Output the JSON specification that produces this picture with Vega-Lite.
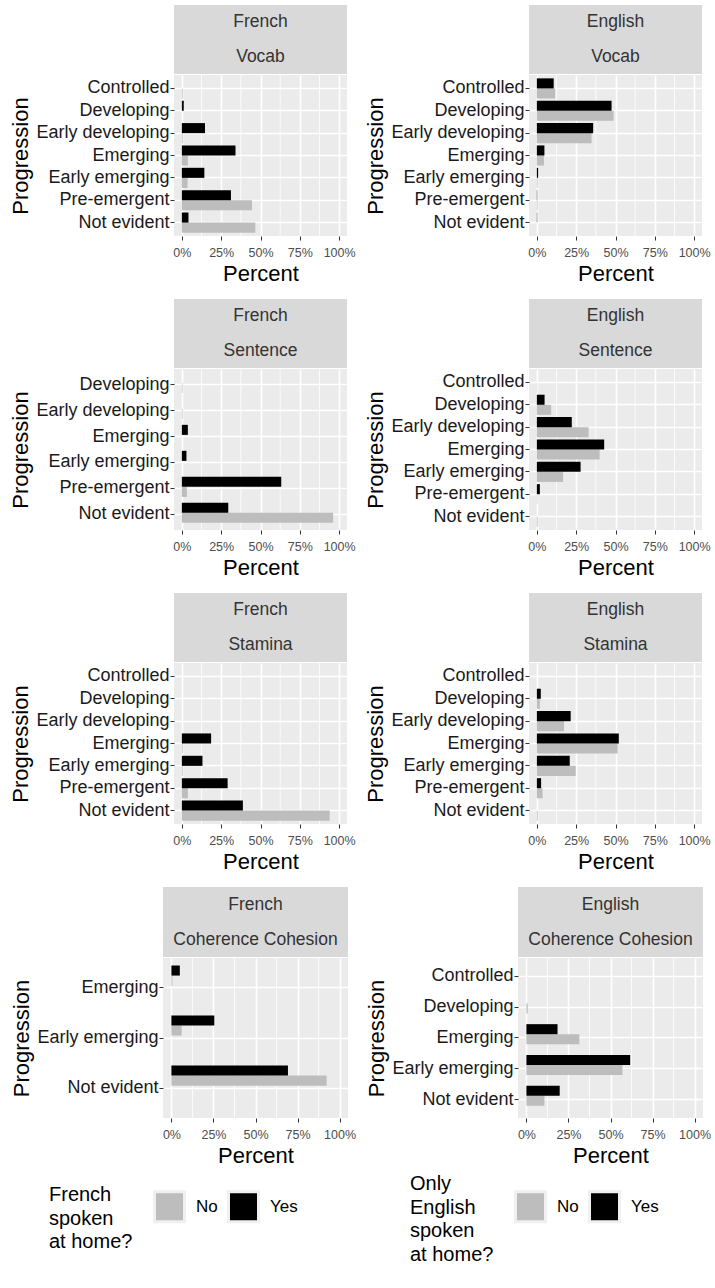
{
  "$schema": "https://vega.github.io/schema/vega-lite/v6.json",
  "padding": {"left": 0, "top": 5, "right": 0, "bottom": 0},
  "datasets": {
    "d": [
      {"lang": "French", "skill": "Vocab", "level": "Controlled", "home": "No", "pct": 0.5},
      {"lang": "French", "skill": "Vocab", "level": "Controlled", "home": "Yes", "pct": 0},
      {"lang": "French", "skill": "Vocab", "level": "Developing", "home": "No", "pct": 0},
      {"lang": "French", "skill": "Vocab", "level": "Developing", "home": "Yes", "pct": 1.2},
      {"lang": "French", "skill": "Vocab", "level": "Early developing", "home": "No", "pct": 0.5},
      {"lang": "French", "skill": "Vocab", "level": "Early developing", "home": "Yes", "pct": 14.7},
      {"lang": "French", "skill": "Vocab", "level": "Emerging", "home": "No", "pct": 3.8},
      {"lang": "French", "skill": "Vocab", "level": "Emerging", "home": "Yes", "pct": 34.1},
      {"lang": "French", "skill": "Vocab", "level": "Early emerging", "home": "No", "pct": 3.6},
      {"lang": "French", "skill": "Vocab", "level": "Early emerging", "home": "Yes", "pct": 14.3},
      {"lang": "French", "skill": "Vocab", "level": "Pre-emergent", "home": "No", "pct": 44.6},
      {"lang": "French", "skill": "Vocab", "level": "Pre-emergent", "home": "Yes", "pct": 31.2},
      {"lang": "French", "skill": "Vocab", "level": "Not evident", "home": "No", "pct": 46.7},
      {"lang": "French", "skill": "Vocab", "level": "Not evident", "home": "Yes", "pct": 4.2},

      {"lang": "English", "skill": "Vocab", "level": "Controlled", "home": "No", "pct": 11.6},
      {"lang": "English", "skill": "Vocab", "level": "Controlled", "home": "Yes", "pct": 10.7},
      {"lang": "English", "skill": "Vocab", "level": "Developing", "home": "No", "pct": 48.8},
      {"lang": "English", "skill": "Vocab", "level": "Developing", "home": "Yes", "pct": 47.5},
      {"lang": "English", "skill": "Vocab", "level": "Early developing", "home": "No", "pct": 34.8},
      {"lang": "English", "skill": "Vocab", "level": "Early developing", "home": "Yes", "pct": 35.8},
      {"lang": "English", "skill": "Vocab", "level": "Emerging", "home": "No", "pct": 4.5},
      {"lang": "English", "skill": "Vocab", "level": "Emerging", "home": "Yes", "pct": 4.8},
      {"lang": "English", "skill": "Vocab", "level": "Early emerging", "home": "No", "pct": 0.4},
      {"lang": "English", "skill": "Vocab", "level": "Early emerging", "home": "Yes", "pct": 0.8},
      {"lang": "English", "skill": "Vocab", "level": "Pre-emergent", "home": "No", "pct": 0.4},
      {"lang": "English", "skill": "Vocab", "level": "Pre-emergent", "home": "Yes", "pct": 0.2},
      {"lang": "English", "skill": "Vocab", "level": "Not evident", "home": "No", "pct": 0},
      {"lang": "English", "skill": "Vocab", "level": "Not evident", "home": "Yes", "pct": 0.2},

      {"lang": "French", "skill": "Sentence", "level": "Developing", "home": "No", "pct": 0.4},
      {"lang": "French", "skill": "Sentence", "level": "Developing", "home": "Yes", "pct": 0},
      {"lang": "French", "skill": "Sentence", "level": "Early developing", "home": "No", "pct": 0.4},
      {"lang": "French", "skill": "Sentence", "level": "Early developing", "home": "Yes", "pct": 0},
      {"lang": "French", "skill": "Sentence", "level": "Emerging", "home": "No", "pct": 0},
      {"lang": "French", "skill": "Sentence", "level": "Emerging", "home": "Yes", "pct": 3.8},
      {"lang": "French", "skill": "Sentence", "level": "Early emerging", "home": "No", "pct": 0},
      {"lang": "French", "skill": "Sentence", "level": "Early emerging", "home": "Yes", "pct": 2.9},
      {"lang": "French", "skill": "Sentence", "level": "Pre-emergent", "home": "No", "pct": 3.2},
      {"lang": "French", "skill": "Sentence", "level": "Pre-emergent", "home": "Yes", "pct": 63.2},
      {"lang": "French", "skill": "Sentence", "level": "Not evident", "home": "No", "pct": 96.2},
      {"lang": "French", "skill": "Sentence", "level": "Not evident", "home": "Yes", "pct": 29.5},

      {"lang": "English", "skill": "Sentence", "level": "Controlled", "home": "No", "pct": 0.2},
      {"lang": "English", "skill": "Sentence", "level": "Controlled", "home": "Yes", "pct": 0},
      {"lang": "English", "skill": "Sentence", "level": "Developing", "home": "No", "pct": 9.1},
      {"lang": "English", "skill": "Sentence", "level": "Developing", "home": "Yes", "pct": 4.9},
      {"lang": "English", "skill": "Sentence", "level": "Early developing", "home": "No", "pct": 32.9},
      {"lang": "English", "skill": "Sentence", "level": "Early developing", "home": "Yes", "pct": 22.2},
      {"lang": "English", "skill": "Sentence", "level": "Emerging", "home": "No", "pct": 39.9},
      {"lang": "English", "skill": "Sentence", "level": "Emerging", "home": "Yes", "pct": 42.8},
      {"lang": "English", "skill": "Sentence", "level": "Early emerging", "home": "No", "pct": 16.7},
      {"lang": "English", "skill": "Sentence", "level": "Early emerging", "home": "Yes", "pct": 27.8},
      {"lang": "English", "skill": "Sentence", "level": "Pre-emergent", "home": "No", "pct": 0.3},
      {"lang": "English", "skill": "Sentence", "level": "Pre-emergent", "home": "Yes", "pct": 1.9},
      {"lang": "English", "skill": "Sentence", "level": "Not evident", "home": "No", "pct": 0.5},
      {"lang": "English", "skill": "Sentence", "level": "Not evident", "home": "Yes", "pct": 0},

      {"lang": "French", "skill": "Stamina", "level": "Controlled", "home": "No", "pct": 0},
      {"lang": "French", "skill": "Stamina", "level": "Controlled", "home": "Yes", "pct": 0},
      {"lang": "French", "skill": "Stamina", "level": "Developing", "home": "No", "pct": 0},
      {"lang": "French", "skill": "Stamina", "level": "Developing", "home": "Yes", "pct": 0},
      {"lang": "French", "skill": "Stamina", "level": "Early developing", "home": "No", "pct": 0},
      {"lang": "French", "skill": "Stamina", "level": "Early developing", "home": "Yes", "pct": 0},
      {"lang": "French", "skill": "Stamina", "level": "Emerging", "home": "No", "pct": 0.5},
      {"lang": "French", "skill": "Stamina", "level": "Emerging", "home": "Yes", "pct": 18.6},
      {"lang": "French", "skill": "Stamina", "level": "Early emerging", "home": "No", "pct": 0.5},
      {"lang": "French", "skill": "Stamina", "level": "Early emerging", "home": "Yes", "pct": 13.1},
      {"lang": "French", "skill": "Stamina", "level": "Pre-emergent", "home": "No", "pct": 3.8},
      {"lang": "French", "skill": "Stamina", "level": "Pre-emergent", "home": "Yes", "pct": 29.1},
      {"lang": "French", "skill": "Stamina", "level": "Not evident", "home": "No", "pct": 94.0},
      {"lang": "French", "skill": "Stamina", "level": "Not evident", "home": "Yes", "pct": 38.8},

      {"lang": "English", "skill": "Stamina", "level": "Controlled", "home": "No", "pct": 0},
      {"lang": "English", "skill": "Stamina", "level": "Controlled", "home": "Yes", "pct": 0},
      {"lang": "English", "skill": "Stamina", "level": "Developing", "home": "No", "pct": 1.9},
      {"lang": "English", "skill": "Stamina", "level": "Developing", "home": "Yes", "pct": 2.5},
      {"lang": "English", "skill": "Stamina", "level": "Early developing", "home": "No", "pct": 17.3},
      {"lang": "English", "skill": "Stamina", "level": "Early developing", "home": "Yes", "pct": 21.5},
      {"lang": "English", "skill": "Stamina", "level": "Emerging", "home": "No", "pct": 51.3},
      {"lang": "English", "skill": "Stamina", "level": "Emerging", "home": "Yes", "pct": 52.1},
      {"lang": "English", "skill": "Stamina", "level": "Early emerging", "home": "No", "pct": 24.7},
      {"lang": "English", "skill": "Stamina", "level": "Early emerging", "home": "Yes", "pct": 20.9},
      {"lang": "English", "skill": "Stamina", "level": "Pre-emergent", "home": "No", "pct": 3.6},
      {"lang": "English", "skill": "Stamina", "level": "Pre-emergent", "home": "Yes", "pct": 2.7},
      {"lang": "English", "skill": "Stamina", "level": "Not evident", "home": "No", "pct": 0.5},
      {"lang": "English", "skill": "Stamina", "level": "Not evident", "home": "Yes", "pct": 0},

      {"lang": "French", "skill": "Coherence Cohesion", "level": "Emerging", "home": "No", "pct": 0.6},
      {"lang": "French", "skill": "Coherence Cohesion", "level": "Emerging", "home": "Yes", "pct": 5.0},
      {"lang": "French", "skill": "Coherence Cohesion", "level": "Early emerging", "home": "No", "pct": 6.1},
      {"lang": "French", "skill": "Coherence Cohesion", "level": "Early emerging", "home": "Yes", "pct": 25.5},
      {"lang": "French", "skill": "Coherence Cohesion", "level": "Not evident", "home": "No", "pct": 92.3},
      {"lang": "French", "skill": "Coherence Cohesion", "level": "Not evident", "home": "Yes", "pct": 69.3},

      {"lang": "English", "skill": "Coherence Cohesion", "level": "Controlled", "home": "No", "pct": 0},
      {"lang": "English", "skill": "Coherence Cohesion", "level": "Controlled", "home": "Yes", "pct": 0},
      {"lang": "English", "skill": "Coherence Cohesion", "level": "Developing", "home": "No", "pct": 0.8},
      {"lang": "English", "skill": "Coherence Cohesion", "level": "Developing", "home": "Yes", "pct": 0},
      {"lang": "English", "skill": "Coherence Cohesion", "level": "Emerging", "home": "No", "pct": 31.5},
      {"lang": "English", "skill": "Coherence Cohesion", "level": "Emerging", "home": "Yes", "pct": 18.5},
      {"lang": "English", "skill": "Coherence Cohesion", "level": "Early emerging", "home": "No", "pct": 57.1},
      {"lang": "English", "skill": "Coherence Cohesion", "level": "Early emerging", "home": "Yes", "pct": 61.7},
      {"lang": "English", "skill": "Coherence Cohesion", "level": "Not evident", "home": "No", "pct": 10.7},
      {"lang": "English", "skill": "Coherence Cohesion", "level": "Not evident", "home": "Yes", "pct": 19.8}
    ],
    "minor": [{"m": 12.5}, {"m": 37.5}, {"m": 62.5}, {"m": 87.5}],
    "keys": [{"home": "No"}, {"home": "Yes"}],
    "blank": [{"b": ""}]
  },
  "columns": 1,
  "align": "none",
  "spacing": 14,
  "resolve": {"scale": {"color": "independent"}},
  "concat": [
    {
      "spacing": 8,
      "resolve": {"scale": {"color": "independent"}},
      "hconcat": [
        {"width": 1, "height": 1, "view": {"fill": "#FFFFFF", "stroke": null}, "data": {"name": "blank"}, "mark": {"type": "text", "fontSize": 0}, "encoding": {"text": {"field": "b"}}},
        {
          "spacing": 0, "resolve": {"scale": {"color": "independent"}},
          "vconcat": [
            {"width": 173, "height": 69, "view": {"fill": "#D9D9D9", "stroke": null},
             "data": {"values": [{"r": 1, "t": "French"}, {"r": 2, "t": "Vocab"}]},
             "mark": {"type": "text", "fontSize": 17.5, "color": "#333333"},
             "encoding": {"y": {"field": "r", "type": "ordinal", "scale": {"type": "point", "padding": 0.5}, "axis": null}, "text": {"field": "t"}}},
            {"width": 173, "height": 161,
             "layer": [
               {"data": {"name": "minor"}, "mark": {"type": "rule", "color": "white", "strokeWidth": 0.8},
                "encoding": {"x": {"field": "m", "type": "quantitative", "scale": {"domain": [-5, 105], "nice": false, "zero": false}, "title": "Percent", "axis": {"values": [0, 25, 50, 75, 100], "labelExpr": "datum.value + '%'"}}}},
               {"data": {"name": "d"}, "transform": [{"filter": "datum.lang === 'French' && datum.skill === 'Vocab'"}],
                "mark": "bar",
                "encoding": {
                  "x": {"field": "pct", "type": "quantitative", "scale": {"domain": [-5, 105], "nice": false, "zero": false}, "title": "Percent", "axis": {"values": [0, 25, 50, 75, 100], "labelExpr": "datum.value + '%'"}},
                  "y": {"field": "level", "type": "nominal", "sort": ["Controlled", "Developing", "Early developing", "Emerging", "Early emerging", "Pre-emergent", "Not evident"], "scale": {"paddingInner": 0.1, "paddingOuter": 0.15}, "title": "Progression"},
                  "yOffset": {"field": "home", "type": "nominal", "sort": ["Yes", "No"], "scale": {"paddingInner": 0, "paddingOuter": 0}},
                  "color": {"field": "home", "type": "nominal", "scale": {"domain": ["No", "Yes"], "range": ["#BDBDBD", "#000000"]}, "legend": null}
                }}
             ]}
          ]
        },
        {
          "spacing": 0, "resolve": {"scale": {"color": "independent"}},
          "vconcat": [
            {"width": 173, "height": 69, "view": {"fill": "#D9D9D9", "stroke": null},
             "data": {"values": [{"r": 1, "t": "English"}, {"r": 2, "t": "Vocab"}]},
             "mark": {"type": "text", "fontSize": 17.5, "color": "#333333"},
             "encoding": {"y": {"field": "r", "type": "ordinal", "scale": {"type": "point", "padding": 0.5}, "axis": null}, "text": {"field": "t"}}},
            {"width": 173, "height": 161,
             "layer": [
               {"data": {"name": "minor"}, "mark": {"type": "rule", "color": "white", "strokeWidth": 0.8},
                "encoding": {"x": {"field": "m", "type": "quantitative", "scale": {"domain": [-5, 105], "nice": false, "zero": false}, "title": "Percent", "axis": {"values": [0, 25, 50, 75, 100], "labelExpr": "datum.value + '%'"}}}},
               {"data": {"name": "d"}, "transform": [{"filter": "datum.lang === 'English' && datum.skill === 'Vocab'"}],
                "mark": "bar",
                "encoding": {
                  "x": {"field": "pct", "type": "quantitative", "scale": {"domain": [-5, 105], "nice": false, "zero": false}, "title": "Percent", "axis": {"values": [0, 25, 50, 75, 100], "labelExpr": "datum.value + '%'"}},
                  "y": {"field": "level", "type": "nominal", "sort": ["Controlled", "Developing", "Early developing", "Emerging", "Early emerging", "Pre-emergent", "Not evident"], "scale": {"paddingInner": 0.1, "paddingOuter": 0.15}, "title": "Progression"},
                  "yOffset": {"field": "home", "type": "nominal", "sort": ["Yes", "No"], "scale": {"paddingInner": 0, "paddingOuter": 0}},
                  "color": {"field": "home", "type": "nominal", "scale": {"domain": ["No", "Yes"], "range": ["#BDBDBD", "#000000"]}, "legend": null}
                }}
             ]}
          ]
        }
      ]
    },
    {
      "spacing": 8,
      "resolve": {"scale": {"color": "independent"}},
      "hconcat": [
        {"width": 1, "height": 1, "view": {"fill": "#FFFFFF", "stroke": null}, "data": {"name": "blank"}, "mark": {"type": "text", "fontSize": 0}, "encoding": {"text": {"field": "b"}}},
        {
          "spacing": 0, "resolve": {"scale": {"color": "independent"}},
          "vconcat": [
            {"width": 173, "height": 69, "view": {"fill": "#D9D9D9", "stroke": null},
             "data": {"values": [{"r": 1, "t": "French"}, {"r": 2, "t": "Sentence"}]},
             "mark": {"type": "text", "fontSize": 17.5, "color": "#333333"},
             "encoding": {"y": {"field": "r", "type": "ordinal", "scale": {"type": "point", "padding": 0.5}, "axis": null}, "text": {"field": "t"}}},
            {"width": 173, "height": 161,
             "layer": [
               {"data": {"name": "minor"}, "mark": {"type": "rule", "color": "white", "strokeWidth": 0.8},
                "encoding": {"x": {"field": "m", "type": "quantitative", "scale": {"domain": [-5, 105], "nice": false, "zero": false}, "title": "Percent", "axis": {"values": [0, 25, 50, 75, 100], "labelExpr": "datum.value + '%'"}}}},
               {"data": {"name": "d"}, "transform": [{"filter": "datum.lang === 'French' && datum.skill === 'Sentence'"}],
                "mark": "bar",
                "encoding": {
                  "x": {"field": "pct", "type": "quantitative", "scale": {"domain": [-5, 105], "nice": false, "zero": false}, "title": "Percent", "axis": {"values": [0, 25, 50, 75, 100], "labelExpr": "datum.value + '%'"}},
                  "y": {"field": "level", "type": "nominal", "sort": ["Controlled", "Developing", "Early developing", "Emerging", "Early emerging", "Pre-emergent", "Not evident"], "scale": {"paddingInner": 0.1, "paddingOuter": 0.15}, "title": "Progression"},
                  "yOffset": {"field": "home", "type": "nominal", "sort": ["Yes", "No"], "scale": {"paddingInner": 0, "paddingOuter": 0}},
                  "color": {"field": "home", "type": "nominal", "scale": {"domain": ["No", "Yes"], "range": ["#BDBDBD", "#000000"]}, "legend": null}
                }}
             ]}
          ]
        },
        {
          "spacing": 0, "resolve": {"scale": {"color": "independent"}},
          "vconcat": [
            {"width": 173, "height": 69, "view": {"fill": "#D9D9D9", "stroke": null},
             "data": {"values": [{"r": 1, "t": "English"}, {"r": 2, "t": "Sentence"}]},
             "mark": {"type": "text", "fontSize": 17.5, "color": "#333333"},
             "encoding": {"y": {"field": "r", "type": "ordinal", "scale": {"type": "point", "padding": 0.5}, "axis": null}, "text": {"field": "t"}}},
            {"width": 173, "height": 161,
             "layer": [
               {"data": {"name": "minor"}, "mark": {"type": "rule", "color": "white", "strokeWidth": 0.8},
                "encoding": {"x": {"field": "m", "type": "quantitative", "scale": {"domain": [-5, 105], "nice": false, "zero": false}, "title": "Percent", "axis": {"values": [0, 25, 50, 75, 100], "labelExpr": "datum.value + '%'"}}}},
               {"data": {"name": "d"}, "transform": [{"filter": "datum.lang === 'English' && datum.skill === 'Sentence'"}],
                "mark": "bar",
                "encoding": {
                  "x": {"field": "pct", "type": "quantitative", "scale": {"domain": [-5, 105], "nice": false, "zero": false}, "title": "Percent", "axis": {"values": [0, 25, 50, 75, 100], "labelExpr": "datum.value + '%'"}},
                  "y": {"field": "level", "type": "nominal", "sort": ["Controlled", "Developing", "Early developing", "Emerging", "Early emerging", "Pre-emergent", "Not evident"], "scale": {"paddingInner": 0.1, "paddingOuter": 0.15}, "title": "Progression"},
                  "yOffset": {"field": "home", "type": "nominal", "sort": ["Yes", "No"], "scale": {"paddingInner": 0, "paddingOuter": 0}},
                  "color": {"field": "home", "type": "nominal", "scale": {"domain": ["No", "Yes"], "range": ["#BDBDBD", "#000000"]}, "legend": null}
                }}
             ]}
          ]
        }
      ]
    },
    {
      "spacing": 8,
      "resolve": {"scale": {"color": "independent"}},
      "hconcat": [
        {"width": 1, "height": 1, "view": {"fill": "#FFFFFF", "stroke": null}, "data": {"name": "blank"}, "mark": {"type": "text", "fontSize": 0}, "encoding": {"text": {"field": "b"}}},
        {
          "spacing": 0, "resolve": {"scale": {"color": "independent"}},
          "vconcat": [
            {"width": 173, "height": 69, "view": {"fill": "#D9D9D9", "stroke": null},
             "data": {"values": [{"r": 1, "t": "French"}, {"r": 2, "t": "Stamina"}]},
             "mark": {"type": "text", "fontSize": 17.5, "color": "#333333"},
             "encoding": {"y": {"field": "r", "type": "ordinal", "scale": {"type": "point", "padding": 0.5}, "axis": null}, "text": {"field": "t"}}},
            {"width": 173, "height": 161,
             "layer": [
               {"data": {"name": "minor"}, "mark": {"type": "rule", "color": "white", "strokeWidth": 0.8},
                "encoding": {"x": {"field": "m", "type": "quantitative", "scale": {"domain": [-5, 105], "nice": false, "zero": false}, "title": "Percent", "axis": {"values": [0, 25, 50, 75, 100], "labelExpr": "datum.value + '%'"}}}},
               {"data": {"name": "d"}, "transform": [{"filter": "datum.lang === 'French' && datum.skill === 'Stamina'"}],
                "mark": "bar",
                "encoding": {
                  "x": {"field": "pct", "type": "quantitative", "scale": {"domain": [-5, 105], "nice": false, "zero": false}, "title": "Percent", "axis": {"values": [0, 25, 50, 75, 100], "labelExpr": "datum.value + '%'"}},
                  "y": {"field": "level", "type": "nominal", "sort": ["Controlled", "Developing", "Early developing", "Emerging", "Early emerging", "Pre-emergent", "Not evident"], "scale": {"paddingInner": 0.1, "paddingOuter": 0.15}, "title": "Progression"},
                  "yOffset": {"field": "home", "type": "nominal", "sort": ["Yes", "No"], "scale": {"paddingInner": 0, "paddingOuter": 0}},
                  "color": {"field": "home", "type": "nominal", "scale": {"domain": ["No", "Yes"], "range": ["#BDBDBD", "#000000"]}, "legend": null}
                }}
             ]}
          ]
        },
        {
          "spacing": 0, "resolve": {"scale": {"color": "independent"}},
          "vconcat": [
            {"width": 173, "height": 69, "view": {"fill": "#D9D9D9", "stroke": null},
             "data": {"values": [{"r": 1, "t": "English"}, {"r": 2, "t": "Stamina"}]},
             "mark": {"type": "text", "fontSize": 17.5, "color": "#333333"},
             "encoding": {"y": {"field": "r", "type": "ordinal", "scale": {"type": "point", "padding": 0.5}, "axis": null}, "text": {"field": "t"}}},
            {"width": 173, "height": 161,
             "layer": [
               {"data": {"name": "minor"}, "mark": {"type": "rule", "color": "white", "strokeWidth": 0.8},
                "encoding": {"x": {"field": "m", "type": "quantitative", "scale": {"domain": [-5, 105], "nice": false, "zero": false}, "title": "Percent", "axis": {"values": [0, 25, 50, 75, 100], "labelExpr": "datum.value + '%'"}}}},
               {"data": {"name": "d"}, "transform": [{"filter": "datum.lang === 'English' && datum.skill === 'Stamina'"}],
                "mark": "bar",
                "encoding": {
                  "x": {"field": "pct", "type": "quantitative", "scale": {"domain": [-5, 105], "nice": false, "zero": false}, "title": "Percent", "axis": {"values": [0, 25, 50, 75, 100], "labelExpr": "datum.value + '%'"}},
                  "y": {"field": "level", "type": "nominal", "sort": ["Controlled", "Developing", "Early developing", "Emerging", "Early emerging", "Pre-emergent", "Not evident"], "scale": {"paddingInner": 0.1, "paddingOuter": 0.15}, "title": "Progression"},
                  "yOffset": {"field": "home", "type": "nominal", "sort": ["Yes", "No"], "scale": {"paddingInner": 0, "paddingOuter": 0}},
                  "color": {"field": "home", "type": "nominal", "scale": {"domain": ["No", "Yes"], "range": ["#BDBDBD", "#000000"]}, "legend": null}
                }}
             ]}
          ]
        }
      ]
    },
    {
      "spacing": 9,
      "resolve": {"scale": {"color": "independent"}},
      "hconcat": [
        {"width": 1, "height": 1, "view": {"fill": "#FFFFFF", "stroke": null}, "data": {"name": "blank"}, "mark": {"type": "text", "fontSize": 0}, "encoding": {"text": {"field": "b"}}},
        {
          "spacing": 0, "resolve": {"scale": {"color": "independent"}},
          "vconcat": [
            {"width": 185, "height": 70, "view": {"fill": "#D9D9D9", "stroke": null},
             "data": {"values": [{"r": 1, "t": "French"}, {"r": 2, "t": "Coherence Cohesion"}]},
             "mark": {"type": "text", "fontSize": 17.5, "color": "#333333"},
             "encoding": {"y": {"field": "r", "type": "ordinal", "scale": {"type": "point", "padding": 0.5}, "axis": null}, "text": {"field": "t"}}},
            {"width": 185, "height": 160,
             "layer": [
               {"data": {"name": "minor"}, "mark": {"type": "rule", "color": "white", "strokeWidth": 0.8},
                "encoding": {"x": {"field": "m", "type": "quantitative", "scale": {"domain": [-5, 105], "nice": false, "zero": false}, "title": "Percent", "axis": {"values": [0, 25, 50, 75, 100], "labelExpr": "datum.value + '%'"}}}},
               {"data": {"name": "d"}, "transform": [{"filter": "datum.lang === 'French' && datum.skill === 'Coherence Cohesion'"}],
                "mark": "bar",
                "encoding": {
                  "x": {"field": "pct", "type": "quantitative", "scale": {"domain": [-5, 105], "nice": false, "zero": false}, "title": "Percent", "axis": {"values": [0, 25, 50, 75, 100], "labelExpr": "datum.value + '%'"}},
                  "y": {"field": "level", "type": "nominal", "sort": ["Controlled", "Developing", "Early developing", "Emerging", "Early emerging", "Pre-emergent", "Not evident"], "scale": {"paddingInner": 0.1, "paddingOuter": 0.15}, "title": "Progression"},
                  "yOffset": {"field": "home", "type": "nominal", "sort": ["Yes", "No"], "scale": {"paddingInner": 0, "paddingOuter": 0}},
                  "color": {"field": "home", "type": "nominal", "scale": {"domain": ["No", "Yes"], "range": ["#BDBDBD", "#000000"]}, "legend": null}
                }}
             ]}
          ]
        },
        {
          "spacing": 0, "resolve": {"scale": {"color": "independent"}},
          "vconcat": [
            {"width": 185, "height": 70, "view": {"fill": "#D9D9D9", "stroke": null},
             "data": {"values": [{"r": 1, "t": "English"}, {"r": 2, "t": "Coherence Cohesion"}]},
             "mark": {"type": "text", "fontSize": 17.5, "color": "#333333"},
             "encoding": {"y": {"field": "r", "type": "ordinal", "scale": {"type": "point", "padding": 0.5}, "axis": null}, "text": {"field": "t"}}},
            {"width": 185, "height": 160,
             "layer": [
               {"data": {"name": "minor"}, "mark": {"type": "rule", "color": "white", "strokeWidth": 0.8},
                "encoding": {"x": {"field": "m", "type": "quantitative", "scale": {"domain": [-5, 105], "nice": false, "zero": false}, "title": "Percent", "axis": {"values": [0, 25, 50, 75, 100], "labelExpr": "datum.value + '%'"}}}},
               {"data": {"name": "d"}, "transform": [{"filter": "datum.lang === 'English' && datum.skill === 'Coherence Cohesion'"}],
                "mark": "bar",
                "encoding": {
                  "x": {"field": "pct", "type": "quantitative", "scale": {"domain": [-5, 105], "nice": false, "zero": false}, "title": "Percent", "axis": {"values": [0, 25, 50, 75, 100], "labelExpr": "datum.value + '%'"}},
                  "y": {"field": "level", "type": "nominal", "sort": ["Controlled", "Developing", "Early developing", "Emerging", "Early emerging", "Pre-emergent", "Not evident"], "scale": {"paddingInner": 0.1, "paddingOuter": 0.15}, "title": "Progression"},
                  "yOffset": {"field": "home", "type": "nominal", "sort": ["Yes", "No"], "scale": {"paddingInner": 0, "paddingOuter": 0}},
                  "color": {"field": "home", "type": "nominal", "scale": {"domain": ["No", "Yes"], "range": ["#BDBDBD", "#000000"]}, "legend": null}
                }}
             ]}
          ]
        }
      ]
    },
    {
      "width": 690, "height": 1, "view": {"fill": "#FFFFFF", "stroke": null},
      "resolve": {"scale": {"color": "independent"}},
      "layer": [
        {"data": {"name": "keys"}, "mark": {"type": "text", "fontSize": 0},
         "encoding": {"text": {"value": ""},
           "color": {"field": "home", "type": "nominal", "scale": {"domain": ["No", "Yes"], "range": ["#BDBDBD", "#000000"]},
             "legend": {"title": ["French", "spoken", "at home?"], "orient": "none", "legendX": 49, "legendY": 9, "direction": "horizontal",
               "titleOrient": "left", "titleFontSize": 20, "titleFontWeight": "normal", "titleColor": "#000000", "titleLineHeight": 23.5, "titleBaseline": "top", "titlePadding": 20,
               "labelFontSize": 17, "labelColor": "#000000", "symbolType": "square", "symbolSize": 900, "symbolStrokeColor": "#F0F0F0", "symbolStrokeWidth": 3, "symbolOpacity": 1,
               "labelOffset": 10, "columnPadding": 4}}}},
        {"data": {"name": "keys"}, "mark": {"type": "text", "fontSize": 0},
         "encoding": {"text": {"value": ""},
           "color": {"field": "home", "type": "nominal", "scale": {"domain": ["No", "Yes"], "range": ["#BDBDBD", "#000000"]},
             "legend": {"title": ["Only", "English", "spoken", "at home?"], "orient": "none", "legendX": 410, "legendY": 9, "direction": "horizontal",
               "titleOrient": "left", "titleFontSize": 20, "titleFontWeight": "normal", "titleColor": "#000000", "titleLineHeight": 23.5, "titleBaseline": "top", "titlePadding": 20,
               "labelFontSize": 17, "labelColor": "#000000", "symbolType": "square", "symbolSize": 900, "symbolStrokeColor": "#F0F0F0", "symbolStrokeWidth": 3, "symbolOpacity": 1,
               "labelOffset": 10, "columnPadding": 4}}}}
      ]
    }
  ],
  "config": {
    "font": "Liberation Sans",
    "view": {"fill": "#EBEBEB", "stroke": null},
    "axisX": {"grid": true, "gridColor": "#FFFFFF", "gridWidth": 1.6, "domain": false, "tickColor": "#333333", "tickSize": 4, "tickWidth": 1,
      "labelFontSize": 12.5, "labelColor": "#4D4D4D", "labelPadding": 6, "titleFontSize": 22, "titleFontWeight": "normal", "titleColor": "#000000", "titlePadding": 5},
    "axisY": {"grid": true, "gridColor": "#FFFFFF", "gridWidth": 1.6, "domain": false, "tickColor": "#333333", "tickSize": 4, "tickWidth": 1,
      "labelFontSize": 18, "labelColor": "#1A1A1A", "labelPadding": 1, "titleFontSize": 22, "titleFontWeight": "normal", "titleColor": "#000000", "titlePadding": 3}
  }
}
